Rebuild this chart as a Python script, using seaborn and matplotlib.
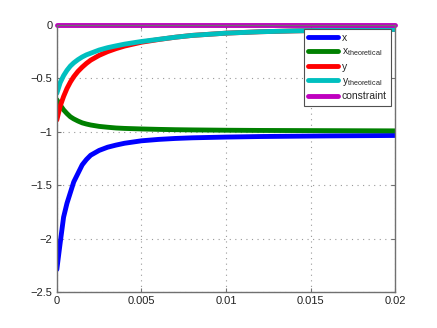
import pandas as pd
import matplotlib
matplotlib.use("Agg")
import matplotlib.pyplot as plt
import seaborn as sns

# values
t = [0, 0.0002, 0.0004, 0.0006, 0.0008, 0.001, 0.00125, 0.0015, 0.00175, 0.002,
     0.0025, 0.003, 0.0035, 0.004, 0.005, 0.006, 0.007, 0.008, 0.01, 0.012,
     0.014, 0.016, 0.018, 0.02]
x_sim = [-2.29, -2.04, -1.80, -1.67, -1.57, -1.47, -1.39, -1.31, -1.26, -1.22,
         -1.175, -1.145, -1.125, -1.108, -1.085, -1.072, -1.063, -1.057, -1.05, -1.045,
         -1.042, -1.039, -1.037, -1.035]
x_theo = [-0.70, -0.75, -0.795, -0.83, -0.86, -0.88, -0.90, -0.917, -0.928, -0.937,
          -0.95, -0.958, -0.965, -0.969, -0.974, -0.978, -0.981, -0.983, -0.986, -0.988,
          -0.989, -0.99, -0.991, -0.992]
y_sim = [-0.89, -0.76, -0.67, -0.595, -0.535, -0.485, -0.435, -0.395, -0.36, -0.33,
         -0.285, -0.25, -0.222, -0.198, -0.162, -0.137, -0.115, -0.098, -0.077, -0.064,
         -0.056, -0.05, -0.046, -0.042]
y_theo = [-0.64, -0.54, -0.475, -0.425, -0.385, -0.355, -0.325, -0.30, -0.28, -0.265,
          -0.235, -0.213, -0.196, -0.18, -0.155, -0.135, -0.115, -0.098, -0.077, -0.064,
          -0.056, -0.05, -0.046, -0.042]
constraint = [0.0] * len(t)

labels = ['x', r'x$_{\mathrm{theoretical}}$', 'y', r'y$_{\mathrm{theoretical}}$', 'constraint']
colors = ['#0000ff', '#008000', '#ff0000', '#00bfbf', '#bf00bf']
series = [x_sim, x_theo, y_sim, y_theo, constraint]

sns.set_theme(style="white")
plt.rcParams['font.family'] = ['Liberation Sans', 'DejaVu Sans']
plt.rcParams['mathtext.fontset'] = 'custom'
plt.rcParams['mathtext.rm'] = 'Liberation Sans'

fig = plt.figure(figsize=(4.37, 3.28), dpi=100)
ax = fig.add_axes([0.13, 0.11, 0.775, 0.814])

for vals, lab, col in zip(series, labels, colors):
    df = pd.DataFrame({'t': t, 'v': vals})
    sns.lineplot(data=df, x='t', y='v', ax=ax, color=col, lw=3.5, label=lab)
# constraint line sits on the top spine, keep it unclipped
ax.lines[-1].set_clip_on(False)

ax.set_xlim(0, 0.02)
ax.set_ylim(-2.5, 0)
ax.set_xticks([0, 0.005, 0.01, 0.015, 0.02])
ax.set_xticklabels(['0', '0.005', '0.01', '0.015', '0.02'])
ax.set_yticks([-2.5, -2, -1.5, -1, -0.5, 0])
ax.set_yticklabels(['\u22122.5', '\u22122', '\u22121.5', '\u22121', '\u22120.5', '0'])
ax.set_xlabel('')
ax.set_ylabel('')
ax.grid(True, ls=(0, (1, 4)), color='#999999', lw=0.8)
ax.tick_params(direction='in', length=3, width=0.8, labelsize=8, color='#707070',
               labelcolor='#222222', top=True, right=True, bottom=True, left=True, pad=3)
for s in ax.spines.values():
    s.set_color('#707070')
    s.set_linewidth(1.0)

leg = ax.legend(loc='upper right', bbox_to_anchor=(0.895, 0.912),
                bbox_transform=fig.transFigure, fontsize=7.5, frameon=True,
                fancybox=False, handlelength=2.9, handletextpad=0.35,
                labelspacing=0.35, borderpad=0.4, borderaxespad=0)
leg.get_frame().set_edgecolor('#505050')
leg.get_frame().set_linewidth(0.8)
leg.get_frame().set_alpha(1)

fig.savefig('out.png', dpi=100)
